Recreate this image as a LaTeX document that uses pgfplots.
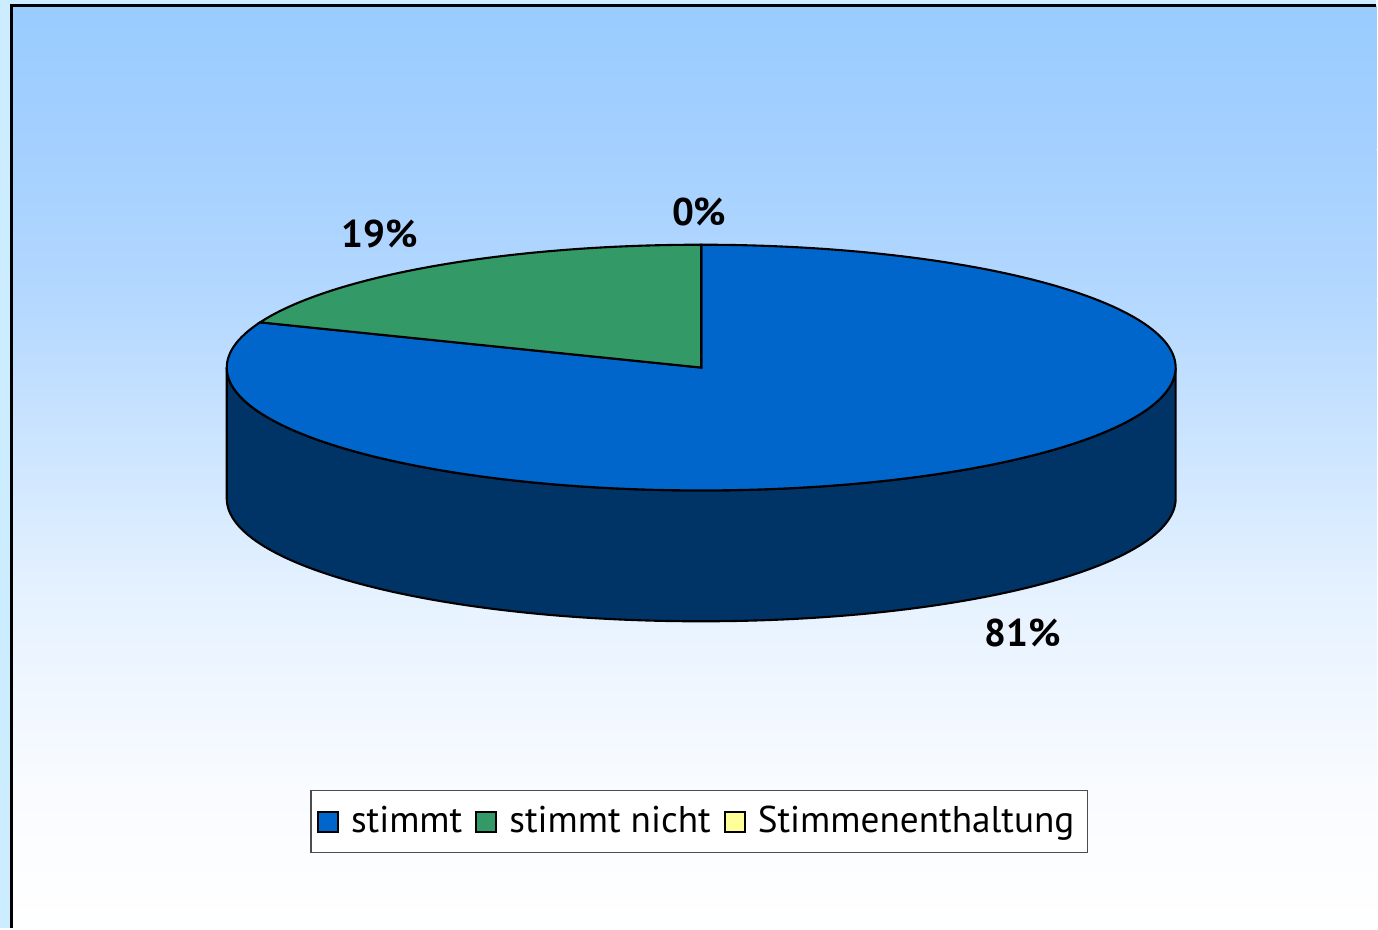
\documentclass[border=0pt]{standalone}
\usepackage{fontspec}
\setmainfont{PT Sans}
\usepackage{pgfplots}
\pgfplotsset{compat=1.18}
\definecolor{bgA}{HTML}{99CCFF}
\definecolor{bgB}{HTML}{A4D0FF}
\definecolor{bgC}{HTML}{B4D8FF}
\definecolor{bgD}{HTML}{E6F2FF}
\definecolor{bgE}{HTML}{F8FBFF}
\definecolor{outerbg}{HTML}{CCECFF}
\definecolor{sblue}{HTML}{0066CC}
\definecolor{sgreen}{HTML}{339966}
\definecolor{syellow}{HTML}{FFFF99}
\definecolor{sside}{HTML}{003366}
% shares in percent
\def\pStimmt{81}
\def\pNicht{19}
\def\pEnth{0}
\begin{document}
\begin{tikzpicture}
\pgfmathsetmacro{\aEnd}{90-3.6*\pStimmt}
\pgfmathsetmacro{\bEnd}{90+3.6*\pNicht}
\begin{axis}[
  scale only axis, width=137.8mm, height=92.9mm,
  xmin=0, xmax=1378, ymin=0, ymax=929,
  hide axis, clip=false,
  legend columns=3,
  legend style={at={(axis cs:700,106.5)}, anchor=center, draw=black!70, line width=0.4pt, fill=white,
    font=\fontsize{10.6}{12}\selectfont, inner xsep=0.6mm, inner ysep=0.8mm,
    /tikz/every odd column/.append style={column sep=0.5mm},
    /tikz/every even column/.append style={column sep=0.6mm}},
  legend image code/.code={\draw[#1,draw=black,line width=0.6pt] (0mm,-1mm) rectangle (2mm,1mm);},
]
% background
\fill[outerbg] (axis cs:0,0) rectangle (axis cs:1378,929);
\shade[top color=bgA, bottom color=bgB] (axis cs:12,779) rectangle (axis cs:1378,923);
\shade[top color=bgB, bottom color=bgC] (axis cs:12,629) rectangle (axis cs:1378,779.5);
\shade[top color=bgC, bottom color=bgD] (axis cs:12,329) rectangle (axis cs:1378,629.5);
\shade[top color=bgD, bottom color=bgE] (axis cs:12,149) rectangle (axis cs:1378,329.5);
\shade[top color=bgE, bottom color=white] (axis cs:12,0) rectangle (axis cs:1378,149.5);
\draw[black, line width=0.9pt] (axis cs:11.5,0) -- (axis cs:11.5,923.5) -- (axis cs:1378,923.5);
% side wall
\addplot[fill=sside, draw=black, line width=0.6pt, forget plot, domain=180:360, samples=120]
  ({702+475*cos(x)},{561+123*sin(x)}) -- (axis cs:1177,430)
  arc[start angle=0, end angle=-180, x radius=47.5mm, y radius=12.3mm] -- cycle;
% top slices
\addplot[fill=sblue, draw=black, line width=0.6pt, domain=\aEnd:90, samples=200]
  ({702+475*cos(x)},{561+123*sin(x)}) -- (axis cs:702,561) -- cycle;
\addlegendentry{stimmt}
\addplot[fill=sgreen, draw=black, line width=0.6pt, domain=90:\bEnd, samples=60]
  ({702+475*cos(x)},{561+123*sin(x)}) -- (axis cs:702,561) -- cycle;
\addlegendentry{stimmt nicht}
\addlegendimage{fill=syellow}
\addlegendentry{Stimmenenthaltung}
% labels
\node[font=\bfseries\fontsize{11}{12}\selectfont] at (axis cs:700,717) {0\%};
\node[font=\bfseries\fontsize{11}{12}\selectfont] at (axis cs:380,695) {19\%};
\node[font=\bfseries\fontsize{11}{12}\selectfont] at (axis cs:1024,295) {81\%};
\end{axis}
\end{tikzpicture}
\end{document}
